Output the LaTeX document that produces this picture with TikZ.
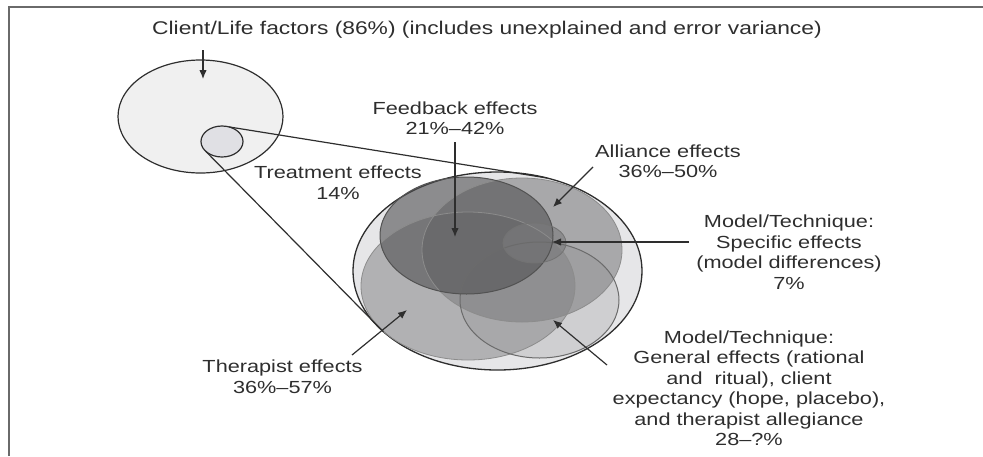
\documentclass[tikz,border=0pt]{standalone}
\usepackage{fontspec}
\setmainfont[FakeStretch=1.24]{Liberation Sans}
\usetikzlibrary{shapes.geometric,arrows.meta}

\definecolor{ink}{HTML}{2E2E2E}
\definecolor{framegray}{HTML}{6A6A6A}
\definecolor{clientfill}{HTML}{F0F0F0}
\definecolor{treatfill}{HTML}{E0E0E4}
\definecolor{outerfill}{HTML}{E6E6E8}
\definecolor{genfill}{HTML}{CFCFD1}
\definecolor{therfill}{HTML}{8F8F91}
\definecolor{allifill}{HTML}{7F7F81}
\definecolor{feedfill}{HTML}{505052}
\definecolor{specfill}{HTML}{7B7B7D}

\tikzset{
  lbl/.style={font=\fontsize{17.5}{20.5}\selectfont, text=ink, align=center, inner sep=0pt},
  ell/.style={ellipse, inner sep=0pt, outer sep=0pt},
  geoclient/.style={ell, minimum width=165pt, minimum height=113pt},
  geotreat/.style={ell, minimum width=42pt, minimum height=31pt},
  geoouter/.style={ell, minimum width=289pt, minimum height=198pt},
  geoall/.style={ell, minimum width=200pt, minimum height=144pt},
  geother/.style={ell, minimum width=214pt, minimum height=148pt},
  geogen/.style={ell, minimum width=159pt, minimum height=116pt},
  geofeed/.style={ell, minimum width=173pt, minimum height=117pt},
  geospec/.style={ell, minimum width=63pt, minimum height=40pt},
  veil/.style={fill opacity=0.6},
  rimlight/.style={draw=black!45, line width=0.8pt},
  rimdark/.style={draw=black!68, line width=1pt},
  arr/.style={draw=ink, line width=1.2pt, -{Latex[length=9pt,width=7.5pt]}},
  cone/.style={draw=ink, line width=1.2pt},
}

\begin{document}
\begin{tikzpicture}[x=1pt,y=-1pt]
\useasboundingbox (0,0) rectangle (983,456);

% page frame: top and left rules
\draw[framegray, line width=1.4pt] (9,456) -- (9,7) -- (983,7);

% title
\node[lbl, font=\fontsize{18.4}{21}\selectfont] (title) at (487,30) {Client/Life factors (86\%) (includes unexplained and error variance)};

% client/life factors with the treatment share inside
\node[geoclient, draw=ink, line width=1.2pt, fill=clientfill] (clientE) at (200.5,116.5) {};
\node[geotreat, draw=ink, line width=1.2pt, fill=treatfill] (treatE) at (222,141.5) {};

% enlarged treatment effects
\node[geoouter, draw=ink, line width=1.3pt, fill=outerfill] (outerE) at (497.5,271) {};

% component fills
\node[geogen, fill=genfill] (genE) at (539.5,300) {};
\node[geother, veil, fill=therfill] (therE) at (468,286) {};
\node[geoall, veil, fill=allifill] (alliE) at (522,250) {};
\node[geofeed, veil, fill=feedfill] (feedE) at (466.5,235.5) {};
\node[geospec, fill opacity=0.62, fill=specfill] (specE) at (534.5,243) {};

% component outlines
\node[geother, rimlight] (therRim) at (therE.center) {};
\node[geoall, rimlight] (alliRim) at (alliE.center) {};
\node[geogen, rimdark, draw=black!58] (genRim) at (genE.center) {};
\node[geofeed, rimdark] (feedRim) at (feedE.center) {};
\node[geospec, rimlight, draw=black!55] (specRim) at (specE.center) {};

% magnifying cone from the small ellipse to the enlarged one
\draw[cone] (treatE.64) -- (outerE.62);
\draw[cone] (treatE.211) -- (outerE.208.6);

% labels
\node[lbl] (feedL) at (455,118) {Feedback effects\\21\%–42\%};
\node[lbl] (treatL) at (338,182.5) {Treatment effects\\14\%};
\node[lbl] (alliL) at (668,161) {Alliance effects\\36\%–50\%};
\node[lbl] (specL) at (789,252) {Model/Technique:\\Specific effects\\(model differences)\\7\%};
\node[lbl] (genL) at (749,388) {Model/Technique:\\General effects (rational\\and\ \ ritual), client\\expectancy (hope, placebo),\\and therapist allegiance\\28–?\%};
\node[lbl] (therL) at (282.5,376.5) {Therapist effects\\36\%–57\%};

% arrow ends
\coordinate (clientTail) at (203,50);
\coordinate (clientTip) at (203,79);
\coordinate (feedTail) at (455,142);
\coordinate (feedTip) at (455,237);
\coordinate (alliTail) at (593,167);
\coordinate (alliTip) at (553,207);
\coordinate (specTail) at (689,242);
\coordinate (specTip) at (552,242);
\coordinate (therTail) at (352,355);
\coordinate (therTip) at (407,310);
\coordinate (genTail) at (607,365);
\coordinate (genTip) at (553,320);

\draw[arr] (clientTail) -- (clientTip);
\draw[arr] (feedTail) -- (feedTip);
\draw[arr] (alliTail) -- (alliTip);
\draw[arr] (specTail) -- (specTip);
\draw[arr] (therTail) -- (therTip);
\draw[arr] (genTail) -- (genTip);
\end{tikzpicture}
\end{document}
